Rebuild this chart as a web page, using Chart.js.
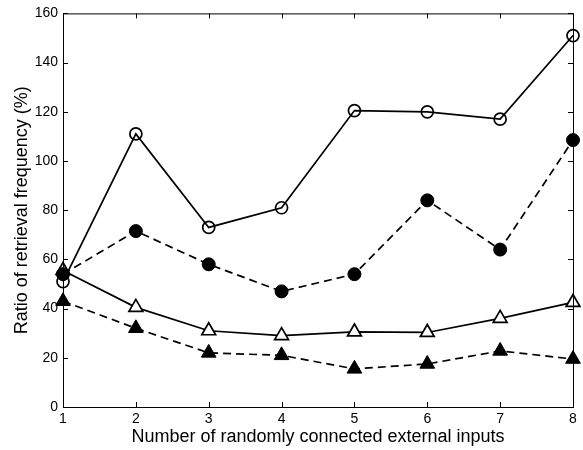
<!DOCTYPE html>
<html>
<head>
<meta charset="UTF-8">
<title>Retrieval frequency</title>
<script src="https://cdn.jsdelivr.net/npm/chart.js"></script>
<style>
  html, body { margin: 0; padding: 0; background: #fff; }
  #wrap { width: 583px; height: 450px; }
</style>
</head>
<body>
<div id="wrap"><canvas id="chart" width="583" height="450"></canvas></div>
<script>
// number of randomly connected external inputs
const inputs = [1, 2, 3, 4, 5, 6, 7, 8];

// ratio of retrieval frequency (%)
const openCircles    = [51, 111, 73, 81, 120.5, 120, 117, 151];
const filledCircles  = [54, 71.5, 58, 47, 54, 84, 64, 108.5];
const openTriangles  = [55.5, 40.5, 31, 29, 30.5, 30.3, 36, 42.5];
const filledTriangles = [43, 32, 22, 21, 15.5, 17.5, 22.8, 19.5];

const yTicks = [0, 20, 40, 60, 80, 100, 120, 140, 160];

function pts(vals) {
    return inputs.map((x, i) => ({ x: x, y: vals[i] }));
}

// box frame with inward ticks on every side
const frameTicks = {
    id: 'frameTicks',
    afterDraw(chart) {
        const ctx = chart.ctx;
        const a = chart.chartArea;
        const xs = chart.scales.x, ys = chart.scales.y;
        ctx.save();
        ctx.strokeStyle = '#000';
        ctx.lineWidth = 1;
        ctx.strokeRect(a.left + 0.5, a.top + 0.5, a.right - a.left, a.bottom - a.top);
        ctx.beginPath();
        inputs.forEach(v => {
            const p = Math.round(xs.getPixelForValue(v)) + 0.5;
            ctx.moveTo(p, a.bottom); ctx.lineTo(p, a.bottom - 5);
            ctx.moveTo(p, a.top); ctx.lineTo(p, a.top + 5);
        });
        yTicks.forEach(v => {
            const p = Math.round(ys.getPixelForValue(v)) + 0.5;
            ctx.moveTo(a.left, p); ctx.lineTo(a.left + 5, p);
            ctx.moveTo(a.right, p); ctx.lineTo(a.right - 5, p);
        });
        ctx.stroke();
        ctx.restore();
    }
};

const font = 'Liberation Sans, Arial, Helvetica, sans-serif';

new Chart(document.getElementById('chart'), {
    type: 'line',
    data: {
        datasets: [
            { data: pts(openCircles), borderColor: '#000', borderWidth: 1.7, clip: false, pointStyle: 'circle',
              pointRadius: 6, pointBorderWidth: 1.7, pointBackgroundColor: 'rgba(255,255,255,0)', pointBorderColor: '#000' },
            { data: pts(filledCircles), borderColor: '#000', borderWidth: 1.7, borderDash: [8, 5], clip: false, pointStyle: 'circle',
              pointRadius: 6.5, pointBorderWidth: 1, pointBackgroundColor: '#000', pointBorderColor: '#000' },
            { data: pts(openTriangles), borderColor: '#000', borderWidth: 1.7, clip: false, pointStyle: 'triangle',
              pointRadius: 8, pointBorderWidth: 1.7, pointBackgroundColor: '#fff', pointBorderColor: '#000' },
            { data: pts(filledTriangles), borderColor: '#000', borderWidth: 1.7, borderDash: [8, 5], clip: false, pointStyle: 'triangle',
              pointRadius: 8.5, pointBorderWidth: 1, pointBackgroundColor: '#000', pointBorderColor: '#000' }
        ]
    },
    options: {
        responsive: false,
        animation: false,
        layout: { padding: { top: 7, right: 10, left: 0, bottom: 0 } },
        plugins: { legend: { display: false }, tooltip: { enabled: false } },
        scales: {
            x: {
                type: 'linear', min: 1, max: 8,
                afterFit(s) { s.height = 43; },
                afterBuildTicks(s) { s.ticks = inputs.map(v => ({ value: v })); },
                grid: { display: false, drawTicks: false },
                border: { display: false },
                ticks: { color: '#000', padding: 4, font: { family: font, size: 14 } },
                title: { display: true, text: 'Number of randomly connected external inputs', color: '#000',
                         padding: { top: 0, bottom: 2 }, font: { family: font, size: 18 } }
            },
            y: {
                min: 0, max: 160,
                afterFit(s) { s.width = 63; },
                afterBuildTicks(s) { s.ticks = yTicks.map(v => ({ value: v })); },
                grid: { display: false, drawTicks: false },
                border: { display: false },
                ticks: { color: '#000', padding: 5, font: { family: font, size: 14 } },
                title: { display: true, text: 'Ratio of retrieval frequency (%)', color: '#000',
                         padding: { top: 11, bottom: 0 }, font: { family: font, size: 18 } }
            }
        }
    },
    plugins: [frameTicks]
});
</script>
</body>
</html>
